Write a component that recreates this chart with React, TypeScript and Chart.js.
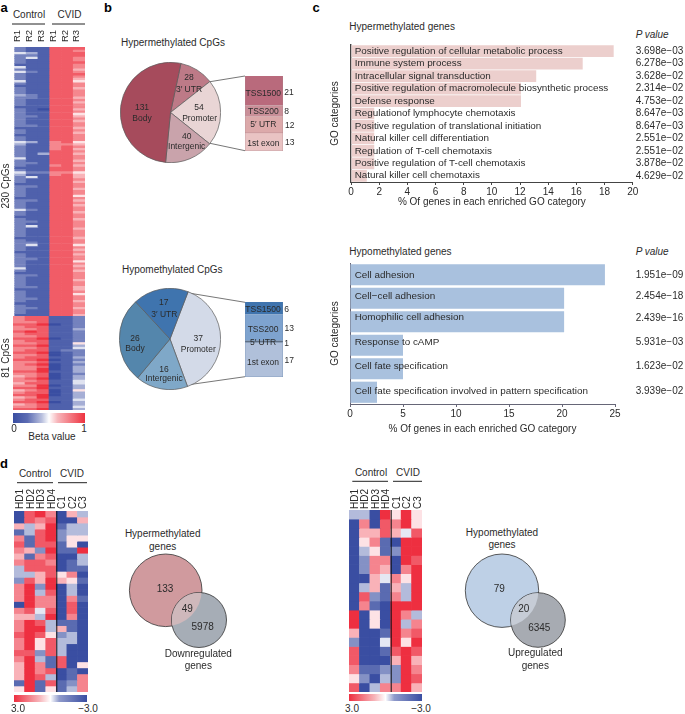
import React, { useEffect, useRef } from "react";
import { Chart, registerables } from "chart.js";

Chart.register(...registerables);
const FONT = '"Liberation Sans", Arial, sans-serif';
Chart.defaults.font.family = FONT;
Chart.defaults.color = "#2b2b2b";

// ---- Panel a: beta values (digits 0-9, low to high), columns R1 R2 R3 | R1 R2 R3
const cpgColumns = ["R1", "R2", "R3", "R1 ", "R2 ", "R3 "];
const cpg230 = [
  "211888","211887","431888","221888","241887","211887","211888","111887","411887","211886",
  "421887","211888","211887","211886","411885","211887","111887","211886","211887","211887",
  "321887","221886","211887","211886","211887","111887","210886","211887","211885","221886",
  "211887","211886","211887","221887","111886","211887","211886","111887","211887","211887",
  "431785","311776","211787","211786","211887","213886","211887","411887","211886","221887",
  "211786","111887","211887","422775","311786","241886","211887","211886","111887","221887",
  "211886","211887","211887","211885","111887","221886","211887","211886","211887","421887",
  "211886","211887","111887","211886","221887","211887","241887","211886","211887","211887",
  "211887","111886","211887","221887","241885","211887","211886","111887","211886","211887",
  "221887","211885","211887","211886","411887","211886","111887","221887","211887","211886",
  "211887","211887","221886","111886","211887","211885","211887","221887","211886","111887",
  "211887","221886","211887","211887","111886",
];
const cpg81 = [
  "788112","788112","778112","889012","788112","778113","898112","788112","778112","889012",
  "788112","778115","889113","778114","788122","889012","778012","788113","889012","778113",
  "789012","778013","779013","889113","778012","678013","789013","778114","688114","779013",
  "889113","678015","788013","889013","679113","788114","889013","678113","778114","889113",
];
const cpgColors = ["#3a4ea2", "#ffffff", "#ee3340"];

// ---- Panel b: CpG location counts
const hyperLocNames = ["3' UTR", "Promoter", "Intergenic", "Body"];
const hyperLocValues = [28, 54, 40, 131];
const hyperLocColors = ["#bd7a87", "#e9d5d5", "#c9a3ab", "#a64b5c"];
const hyperPromNames = ["TSS1500", "TSS200", "5' UTR", "1st exon"];
const hyperPromValues = [21, 8, 12, 13];
const hyperPromColors = ["#b96a7c", "#c98f98", "#dca9aa", "#e9c3c3"];
const hypoLocNames = ["Promoter", "Intergenic", "Body", "3' UTR"];
const hypoLocValues = [37, 16, 26, 17];
const hypoLocColors = ["#d3dae8", "#7fa8c8", "#5486ac", "#3f74ae"];
const hypoPromNames = ["TSS1500", "TSS200", "5' UTR", "1st exon"];
const hypoPromValues = [6, 13, 1, 17];
const hypoPromColors = ["#3f74ae", "#7ea3cf", "#5f6f85", "#b0c0da"];

// ---- Panel c: GO categories
const hyperGO = [
  "Positive regulation of cellular metabolic process",
  "Immune system process",
  "Intracellular signal transduction",
  "Positive regulation of macromolecule biosynthetic process",
  "Defense response",
  "Regulationof lymphocyte chemotaxis",
  "Positive regulation of translational initiation",
  "Natural killer cell differentiation",
  "Regulation of T-cell chemotaxis",
  "Positive regulation of T-cell chemotaxis",
  "Natural killer cell chemotaxis",
];
const hyperPercent = [18.65, 16.45, 13.15, 12.07, 12.07, 1.65, 1.65, 1.65, 1.65, 1.65, 1.12];
const hyperP = [
  "3.698e\u221203","6.278e\u221203","3.628e\u221202","2.314e\u221202","4.753e\u221202","8.647e\u221203",
  "8.647e\u221203","2.551e\u221202","2.551e\u221202","3.878e\u221202","4.629e\u221202",
];
const hypoGO = [
  "Cell adhesion",
  "Cell\u2212cell adhesion",
  "Homophilic cell adhesion",
  "Response to cAMP",
  "Cell fate specification",
  "Cell fate specification involved in pattern specification",
];
const hypoPercent = [24.05, 20.2, 20.2, 5, 5, 2.55];
const hypoP = ["1.951e\u221209", "2.454e\u221218", "2.439e\u221216", "5.931e\u221203", "1.623e\u221202", "3.939e\u221202"];
const hypoLabelShift = [0.3, -2, -4, -2.7, -2.5, -0.7];

// ---- Panel d: expression (digits 0-9, -3 to +3)
const downColumns = ["HD1", "HD2", "HD3", "HD4", "C1", "C2", "C3"];
const downRows = [
  "0897063","0878006","6369133","1389233","7189255","8188150","7629119","6178003","7887013","3888011",
  "3368570","2869651","7929030","7938030","7977071","0977080","7848080","6639070","7983110","7993610",
  "8985230","7958330","7958300","8828300","7931800","6971805","6978010","6983017","1918127","5915137",
];
const upColumns = ["HD1", "HD2", "HD3", "HD4", "C1", "C2", "C3"];
const upRows = [
  "3309595","0708795","0668648","0571099","0351299","0277098","0276079","0064759","0361639","0821739",
  "0710999","9050973","9050937","6001978","2004959","8001898","8000696","7112297","5203298","8037796",
];
const expColors = ["#3a4ea2", "#ffffff", "#ee2f40"];

// ---- Venn circles
const vennHyperX = [45.7, 79];
const vennHyperY = [40.3, 70];
const vennHyperR = [36.3, 27.5];
const vennHypoX = [46, 82];
const vennHypoY = [40.7, 70];
const vennHypoR = [36.7, 27.3];

function hex(c: string) {
  return [1, 3, 5].map((i) => parseInt(c.slice(i, i + 2), 16));
}
function ramp(stops: string[], digit: number, lowGamma: number, highGamma: number) {
  const t = digit / 9;
  const low = t < 0.5;
  const amt = low ? 1 - Math.pow(t / 0.5, lowGamma) : Math.pow((t - 0.5) / 0.5, highGamma);
  const A = hex(stops[1]), B = hex(low ? stops[0] : stops[2]);
  return `rgb(${A.map((v, i) => Math.round(v + (B[i] - v) * amt)).join(",")})`;
}

function useChart(build: () => any) {
  const ref = useRef<HTMLCanvasElement>(null);
  useEffect(() => {
    const chart = new Chart(ref.current as HTMLCanvasElement, build());
    return () => chart.destroy();
  }, []);
  return ref;
}

function Box({ left, top, width, height, build }: any) {
  const ref = useChart(build);
  return (
    <canvas
      ref={ref}
      width={width}
      height={height}
      style={{ position: "absolute", left, top, width, height, display: "block" }}
    />
  );
}

function heatConfig(o: any) {
  const { rows, columns, colors, axisH, pad, tickSize, sep, lowGamma, highGamma, labelOffset } = o;
  return {
    type: "bar",
    data: {
      labels: columns,
      datasets: rows.map((r: string) => ({
        data: columns.map(() => 1),
        backgroundColor: r.split("").map((d) => ramp(colors, Number(d), lowGamma, highGamma)),
        borderWidth: 0,
        barPercentage: 1,
        categoryPercentage: 1,
      })),
    },
    options: {
      animation: false,
      responsive: false,
      layout: { padding: { left: 10, right: 10, top: 0, bottom: 0 } },
      plugins: { legend: { display: false }, tooltip: { enabled: false } },
      scales: {
        x: {
          stacked: true,
          position: "top",
          grid: { display: false, drawTicks: false, tickLength: 0 },
          border: { display: false },
          ticks: { minRotation: 90, maxRotation: 90, autoSkip: false, padding: pad, labelOffset, font: { size: tickSize }, color: "#2b2b2b" },
          afterFit: (s: any) => { s.height = axisH; },
        },
        y: { stacked: true, display: false, reverse: true, min: 0, max: rows.length },
      },
    },
    plugins: sep
      ? [{
          id: "sep",
          afterDatasetsDraw(c: any) {
            const x = c.scales.x.getPixelForValue(3.5) + 0.5;
            const ctx = c.ctx;
            ctx.save();
            ctx.strokeStyle = sep;
            ctx.lineWidth = 1;
            ctx.beginPath();
            ctx.moveTo(x, c.chartArea.top);
            ctx.lineTo(x, c.chartArea.bottom);
            ctx.stroke();
            ctx.restore();
          },
        }]
      : [],
  };
}

function pieConfig(names: string[], values: number[], colors: string[], rotation: number) {
  return {
    type: "pie",
    data: { labels: names, datasets: [{ data: values, backgroundColor: colors, borderColor: "#5a5a5a", borderWidth: 0.7 }] },
    options: {
      animation: false,
      responsive: false,
      rotation,
      plugins: { legend: { display: false }, tooltip: { enabled: false } },
    },
  };
}

function stackConfig(names: string[], values: number[], colors: string[], border: string) {
  return {
    type: "bar",
    data: {
      labels: ["Promoter"],
      datasets: names.map((n, i) => ({
        label: n,
        data: [values[i]],
        backgroundColor: colors[i],
        borderColor: border,
        borderWidth: 0.6,
        barPercentage: 1,
        categoryPercentage: 1,
      })),
    },
    options: {
      animation: false,
      responsive: false,
      plugins: { legend: { display: false }, tooltip: { enabled: false } },
      scales: {
        x: { stacked: true, display: false },
        y: { stacked: true, display: false, reverse: true, min: 0, max: values.reduce((a, b) => a + b, 0) },
      },
    },
  };
}

function goConfig(o: any) {
  return {
    type: "bar",
    data: {
      labels: o.labels,
      datasets: [{ data: o.values, backgroundColor: o.color, borderWidth: 0, barPercentage: o.barPct, categoryPercentage: 1 }],
    },
    options: {
      indexAxis: "y",
      animation: false,
      responsive: false,
      layout: { padding: { left: 0, right: o.padRight, top: 5, bottom: 0 } },
      plugins: { legend: { display: false }, tooltip: { enabled: false } },
      scales: {
        x: {
          min: 0,
          max: o.max,
          grid: { drawOnChartArea: false, drawTicks: true, tickLength: 3, color: o.axis },
          border: { display: true, color: o.axis, width: 1 },
          ticks: { stepSize: o.step, padding: 1, maxRotation: 0, font: { size: 10 }, color: "#2b2b2b" },
          title: { display: true, text: "% Of genes in each enriched GO category", font: { size: 10 }, color: "#2b2b2b", padding: { top: 0, bottom: o.titlePad } },
          afterFit: (s: any) => { s.height = o.axisH; },
        },
        y: {
          grid: { display: false, drawTicks: false },
          border: { display: true, color: o.axis, width: o.axisW },
          ticks: { display: false },
          title: { display: true, text: "GO categories", font: { size: 10 }, color: "#2b2b2b", padding: { top: 4, bottom: 4 } },
          afterFit: (s: any) => { s.width = o.axisLeft; },
        },
      },
    },
    plugins: [{
      id: "goLabels",
      afterDatasetsDraw(c: any) {
        const ctx = c.ctx;
        ctx.save();
        ctx.fillStyle = "#2b2b2b";
        ctx.textBaseline = "middle";
        ctx.textAlign = "left";
        c.getDatasetMeta(0).data.forEach((bar: any, i: number) => {
          const y = bar.y + (o.shift ? o.shift[i] : 0);
          ctx.font = `${o.labelSize}px ${FONT}`;
          ctx.fillText(o.labels[i], c.chartArea.left + o.inset, y);
          ctx.font = `10px ${FONT}`;
          ctx.fillText(o.pvals[i], o.pX, y);
        });
        ctx.restore();
      },
    }],
  };
}

function vennConfig(xs: number[], ys: number[], rs: number[], c1: string, c2: string, c3: string, w: number, h: number) {
  return {
    type: "bubble",
    data: {
      datasets: [
        { data: [{ x: xs[1], y: ys[1], r: rs[1] }], backgroundColor: c2, borderColor: "#333", borderWidth: 0.8, order: 1, clip: false },
        { data: [{ x: xs[0], y: ys[0], r: rs[0] }], backgroundColor: c1, borderColor: "#333", borderWidth: 0.8, order: 2, clip: false },
      ],
    },
    options: {
      animation: false,
      responsive: false,
      layout: { autoPadding: false, padding: 0 },
      plugins: { legend: { display: false }, tooltip: { enabled: false } },
      scales: {
        x: { display: false, min: 0, max: w },
        y: { display: false, min: 0, max: h, reverse: true },
      },
    },
    plugins: [{
      id: "overlap",
      afterDatasetsDraw(c: any) {
        const a = c.getDatasetMeta(1).data[0];
        const b = c.getDatasetMeta(0).data[0];
        const ctx = c.ctx;
        ctx.save();
        ctx.beginPath();
        ctx.arc(a.x, a.y, a.options.radius - 0.3, 0, Math.PI * 2);
        ctx.clip();
        ctx.beginPath();
        ctx.arc(b.x, b.y, b.options.radius - 0.3, 0, Math.PI * 2);
        ctx.fillStyle = c3;
        ctx.fill();
        ctx.restore();
      },
    }],
  };
}

function T({ x, y, s = 10, rot, left, i, b, children }: any) {
  const tf = left ? "translate(0,-50%)" : rot ? "translate(-50%,-50%) rotate(-90deg)" : "translate(-50%,-50%)";
  return (
    <div
      style={{
        position: "absolute",
        left: x,
        top: y,
        transform: tf,
        font: `${i ? "italic " : ""}${b ? "bold " : ""}${s}px ${FONT}`,
        lineHeight: 1,
        color: b ? "#000" : "#2b2b2b",
        whiteSpace: "nowrap",
      }}
    >
      {children}
    </div>
  );
}

function Lines() {
  const segs = [
    [12, 24, 45, 24, "#222"], [52, 24, 85, 24, "#222"],
    [17, 482.7, 53, 482.7, "#222"], [58, 482.7, 87, 482.7, "#222"],
    [352.3, 481.3, 388, 481.3, "#222"], [393, 481.3, 422, 481.3, "#222"],
    [210, 81.7, 245, 76, "#777"], [210, 143.3, 245, 150.7, "#777"],
    [186.7, 292.7, 245, 302.3, "#777"], [186.7, 385, 245, 376.7, "#777"],
  ];
  return (
    <svg width={685} height={714} style={{ position: "absolute", left: 0, top: 0 }}>
      {segs.map((s, i) => (
        <line key={i} x1={s[0]} y1={s[1]} x2={s[2]} y2={s[3]} stroke={s[4] as string} strokeWidth={1} />
      ))}
    </svg>
  );
}

function Bar({ x, y, w, h, bg }: any) {
  return <div style={{ position: "absolute", left: x, top: y, width: w, height: h, background: bg }} />;
}

export default function App() {
  return (
    <div style={{ position: "absolute", left: 0, top: 0, width: 685, height: 714, overflow: "hidden", background: "#fff", filter: "blur(0.3px)" }}>
      <Lines />

      {/* panel letters */}
      <T x={4} y={7} s={13} b>a</T>
      <T x={108} y={7} s={13} b>b</T>
      <T x={316} y={7} s={13} b>c</T>
      <T x={4} y={463} s={13} b>d</T>

      {/* panel a */}
      <T x={29} y={15}>Control</T>
      <T x={69.5} y={15}>CVID</T>
      <Box left={3} top={25} width={92} height={291} build={() => heatConfig({ rows: cpg230, columns: cpgColumns, colors: cpgColors, axisH: 22, pad: 5, tickSize: 9.5, sep: null, lowGamma: 1.5, highGamma: 0.9, labelOffset: 9 })} />
      <Box left={3} top={316} width={92} height={94} build={() => heatConfig({ rows: cpg81, columns: cpgColumns.map(() => ""), colors: cpgColors, axisH: 0, pad: 0, tickSize: 10, sep: null, lowGamma: 1.5, highGamma: 0.9, labelOffset: 0 })} />
      <T x={6} y={186} rot>230 CpGs</T>
      <T x={6} y={358} rot>81 CpGs</T>
      <Bar x={13} y={413} w={72} h={10} bg="linear-gradient(90deg,#3a4ea2 0%,#5c6cb3 20%,#b9c0de 40%,#ffffff 50%,#f7b5ba 62%,#ee3340 100%)" />
      <T x={14} y={429}>0</T>
      <T x={84} y={429}>1</T>
      <T x={52} y={437}>Beta value</T>

      {/* panel b */}
      <T x={121} y={43} left>Hypermethylated CpGs</T>
      <Box left={120} top={62} width={101} height={101} build={() => pieConfig(hyperLocNames, hyperLocValues, hyperLocColors, 12)} />
      <Box left={245} top={76} width={38} height={75} build={() => stackConfig(hyperPromNames, hyperPromValues, hyperPromColors, "#a98088")} />
      <T x={189} y={77} s={8.5}>28</T>
      <T x={189} y={89} s={8.5}>3{"\u2032"} UTR</T>
      <T x={142} y={107} s={8.5}>131</T>
      <T x={142} y={118} s={8.5}>Body</T>
      <T x={199} y={107} s={8.5}>54</T>
      <T x={199.7} y={118} s={8.5}>Promoter</T>
      <T x={186.7} y={136} s={8.5}>40</T>
      <T x={186.7} y={146} s={8.5}>Intergenic</T>
      <T x={263.3} y={92.7} s={8.5}>TSS1500</T>
      <T x={263.3} y={111} s={8.5}>TSS200</T>
      <T x={263.3} y={124.3} s={8.5}>5{"\u2032"} UTR</T>
      <T x={263.3} y={142.7} s={8.5}>1st exon</T>
      <T x={289} y={92} s={8.5}>21</T>
      <T x={286.7} y={111} s={8.5}>8</T>
      <T x={289.7} y={124.7} s={8.5}>12</T>
      <T x={289.7} y={142} s={8.5}>13</T>

      <T x={122} y={270} left>Hypomethylated CpGs</T>
      <Box left={119} top={288} width={102} height={102} build={() => pieConfig(hypoLocNames, hypoLocValues, hypoLocColors, 21)} />
      <Box left={245} top={302} width={38} height={75} build={() => stackConfig(hypoPromNames, hypoPromValues, hypoPromColors, "#5f7fa6")} />
      <T x={163.7} y={302} s={8.5}>17</T>
      <T x={164.3} y={314} s={8.5}>3{"\u2032"} UTR</T>
      <T x={135} y={338} s={8.5}>26</T>
      <T x={135} y={348.3} s={8.5}>Body</T>
      <T x={198.3} y={338} s={8.5}>37</T>
      <T x={198.3} y={348.7} s={8.5}>Promoter</T>
      <T x={164} y={369.3} s={8.5}>16</T>
      <T x={164} y={378} s={8.5}>Intergenic</T>
      <T x={263} y={308.7} s={8.5}>TSS1500</T>
      <T x={263} y={329.3} s={8.5}>TSS200</T>
      <T x={263} y={342} s={8.5}>5{"\u2032"} UTR</T>
      <T x={263} y={361.7} s={8.5}>1st exon</T>
      <T x={286.7} y={309.3} s={8.5}>6</T>
      <T x={289.3} y={328.3} s={8.5}>13</T>
      <T x={286.7} y={342.7} s={8.5}>1</T>
      <T x={289.3} y={360.3} s={8.5}>17</T>

      {/* panel c */}
      <T x={349.3} y={26.7} left>Hypermethylated genes</T>
      <T x={635.7} y={34.7} left i>P value</T>
      <Box
        left={325} top={40} width={360} height={175}
        build={() => goConfig({
          labels: hyperGO, values: hyperPercent, pvals: hyperP, color: "#eccfcd", barPct: 0.94, padRight: 52.3,
          max: 20, step: 2, axis: "#444", axisW: 1.4, axisH: 33, axisLeft: 26, titlePad: 7, labelSize: 9.9, inset: 3.7, pX: 310.7,
        })}
      />
      <T x={349.3} y={252.3} left>Hypomethylated genes</T>
      <T x={635.7} y={252.3} left i>P value</T>
      <Box
        left={325} top={258} width={360} height={182}
        build={() => goConfig({
          labels: hypoGO, values: hypoPercent, pvals: hypoP, color: "#a9c1de", barPct: 0.9, padRight: 70,
          max: 25, step: 5, axis: "#667", axisW: 1, axisH: 36, axisLeft: 25, titlePad: 5, labelSize: 9.9, inset: 4.7, pX: 310.7, shift: hypoLabelShift,
        })}
      />

      {/* panel d left */}
      <T x={35} y={474}>Control</T>
      <T x={72} y={474}>CVID</T>
      <Box left={4} top={483} width={94} height={209} build={() => heatConfig({ rows: downRows, columns: downColumns, colors: expColors, axisH: 28, pad: 2, tickSize: 10, sep: "#111", lowGamma: 1.2, highGamma: 0.9, labelOffset: 13 })} />
      <Bar x={14} y={695} w={73} h={7} bg="linear-gradient(90deg,#ee2f40 0%,#f7b5ba 35%,#ffffff 50%,#8f9acb 62%,#3a4ea2 100%)" />
      <T x={18} y={708.7}>3.0</T>
      <T x={88} y={708.7}>{"\u2212"}3.0</T>
      <T x={162.7} y={534.3}>Hypermethylated</T>
      <T x={162.7} y={546.7}>genes</T>
      <Box left={120} top={550} width={120} height={105} build={() => vennConfig(vennHyperX, vennHyperY, vennHyperR, "#d09a9e", "#a6adb6", "#cfb8bb", 120, 105)} />
      <T x={165} y={588.7}>133</T>
      <T x={187.3} y={609.3}>49</T>
      <T x={202.7} y={626.7}>5978</T>
      <T x={198.3} y={654}>Downregulated</T>
      <T x={198.3} y={666}>genes</T>

      {/* panel d right */}
      <T x={371} y={473}>Control</T>
      <T x={408} y={473}>CVID</T>
      <Box left={339} top={482} width={93} height={210} build={() => heatConfig({ rows: upRows, columns: upColumns, colors: expColors, axisH: 28, pad: 1, tickSize: 10, sep: "#111", lowGamma: 1.2, highGamma: 0.9, labelOffset: 13 })} />
      <Bar x={349} y={694} w={73} h={7} bg="linear-gradient(90deg,#ee2f40 0%,#f7b5ba 35%,#ffffff 50%,#8f9acb 62%,#3a4ea2 100%)" />
      <T x={352} y={708.7}>3.0</T>
      <T x={421} y={708.7}>{"\u2212"}3.0</T>
      <T x={502} y={533.3}>Hypomethylated</T>
      <T x={502} y={545}>genes</T>
      <Box left={456} top={550} width={120} height={105} build={() => vennConfig(vennHypoX, vennHypoY, vennHypoR, "#bed0e6", "#a7abb2", "#c6ccd6", 120, 105)} />
      <T x={499.3} y={588.7}>79</T>
      <T x={523.7} y={609}>20</T>
      <T x={539.3} y={628.3}>6345</T>
      <T x={535.3} y={653.3}>Upregulated</T>
      <T x={535.3} y={666}>genes</T>
    </div>
  );
}
